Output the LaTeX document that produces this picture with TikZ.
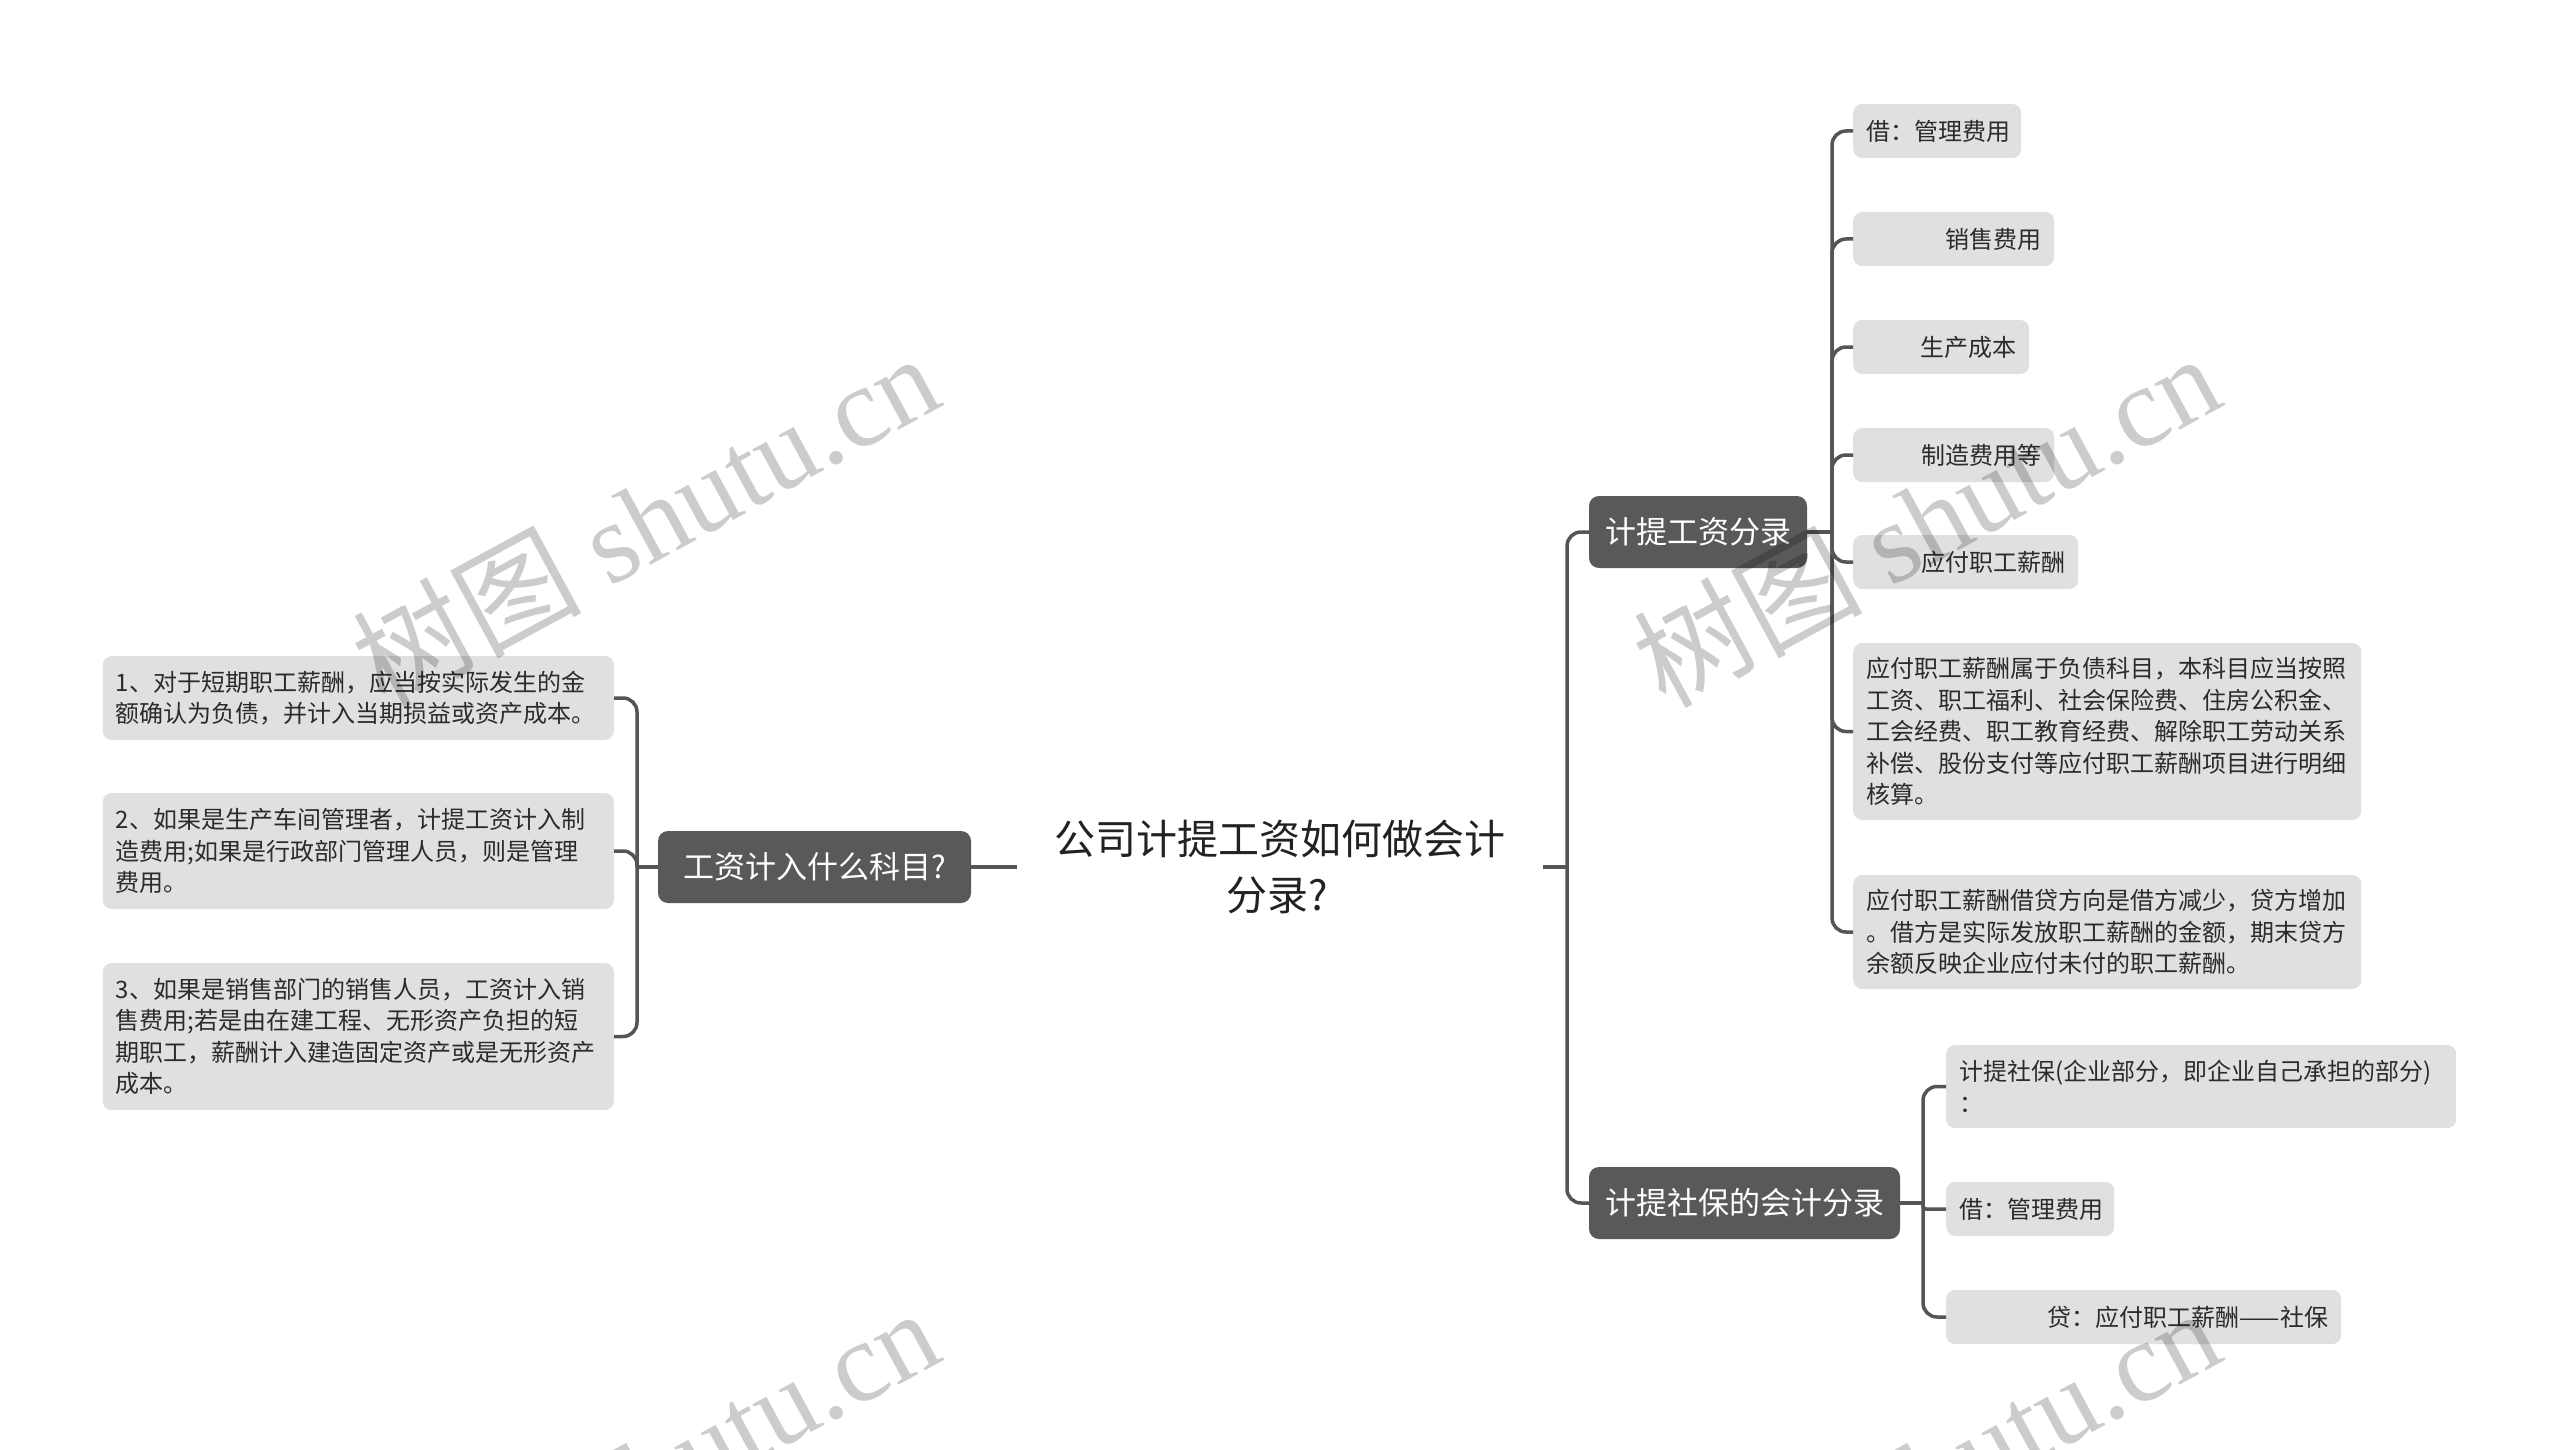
\documentclass[tikz,border=0pt]{standalone}
\usepackage{fontspec}
\setmainfont{Noto Sans CJK SC}
\newfontfamily\wmlatin{Liberation Serif}
\newfontfamily\wmcjk{Noto Sans CJK SC}
\definecolor{darkfill}{HTML}{595959}
\definecolor{leaffill}{HTML}{E0E0E0}
\definecolor{leaftext}{HTML}{2B2B2B}
\definecolor{linec}{HTML}{555555}
\definecolor{roottext}{HTML}{222222}
\tikzset{
  conn/.style={draw=linec, line width=3.5pt, rounded corners=14pt},
  mainnode/.style={fill=darkfill, rounded corners=10pt, text=white,
    font=\fontsize{31}{38}\selectfont, minimum height=72pt, inner sep=0pt},
  leaf/.style={fill=leaffill, rounded corners=9pt, text=leaftext,
    font=\fontsize{24}{31.5}\selectfont, inner xsep=13pt, inner ysep=0pt},
  roottitle/.style={text=roottext, font=\fontsize{41}{56}\selectfont,
    text width=460pt, align=center, inner xsep=33pt, inner ysep=0pt},
  wmark/.style={text=black, text opacity=0.2, rotate=28.5,
    font=\fontsize{114}{120}\selectfont, inner sep=0pt}
}
\begin{document}
\begin{tikzpicture}[x=1pt,y=-1pt]
\useasboundingbox (0,0) rectangle (2560,1450);
\fill[white] (0,0) rectangle (2560,1450);

% root
\node[roottitle] (root) at (1280,867) {公司计提工资如何做会计\\分录?\hspace*{6pt}};

% main branches
\node[mainnode, minimum width=313pt] (n1) at (814.5,867) {工资计入什么科目?};
\node[mainnode, minimum width=218pt] (n2) at (1698,532) {计提工资分录};
\node[mainnode, minimum width=311pt] (n3) at (1744.5,1203) {计提社保的会计分录};

% left leaves
\node[leaf, anchor=east, text width=485pt, align=left, minimum height=84pt] (l1) at (614,698)
  {1、对于短期职工薪酬，应当按实际发生的金\\额确认为负债，并计入当期损益或资产成本。};
\node[leaf, anchor=east, text width=485pt, align=left, minimum height=116pt] (l2) at (614,851)
  {2、如果是生产车间管理者，计提工资计入制\\造费用;如果是行政部门管理人员，则是管理\\费用。};
\node[leaf, anchor=east, text width=485pt, align=left, minimum height=147pt] (l3) at (614,1036.5)
  {3、如果是销售部门的销售人员，工资计入销\\售费用;若是由在建工程、无形资产负担的短\\期职工，薪酬计入建造固定资产或是无形资产\\成本。};

% right leaves of n2
\node[leaf, anchor=west, text width=142pt, align=left, minimum height=54pt] (r1) at (1853,131) {借：管理费用};
\node[leaf, anchor=west, text width=175pt, align=right, minimum height=54pt] (r2) at (1853,239) {销售费用};
\node[leaf, anchor=west, text width=150pt, align=right, minimum height=54pt] (r3) at (1853,347) {生产成本};
\node[leaf, anchor=west, text width=175pt, align=right, minimum height=54pt] (r4) at (1853,455) {制造费用等};
\node[leaf, anchor=west, text width=199pt, align=right, minimum height=54pt] (r5) at (1853,562) {应付职工薪酬};
\node[leaf, anchor=west, text width=482pt, align=left, minimum height=177pt] (r6) at (1853,731.5)
  {应付职工薪酬属于负债科目，本科目应当按照\\工资、职工福利、社会保险费、住房公积金、\\工会经费、职工教育经费、解除职工劳动关系\\补偿、股份支付等应付职工薪酬项目进行明细\\核算。};
\node[leaf, anchor=west, text width=482pt, align=left, minimum height=114pt] (r7) at (1853,932)
  {应付职工薪酬借贷方向是借方减少，贷方增加\\。借方是实际发放职工薪酬的金额，期末贷方\\余额反映企业应付未付的职工薪酬。};

% right leaves of n3
\node[leaf, anchor=west, text width=484pt, align=left, minimum height=83pt] (s1) at (1946,1086.5)
  {计提社保(企业部分，即企业自己承担的部分)\\：};
\node[leaf, anchor=west, text width=142pt, align=left, minimum height=54pt] (s2) at (1946,1209) {借：管理费用};
\node[leaf, anchor=west, text width=369pt, align=right, minimum height=54pt] (s3) at (1946,1317) {贷：应付职工薪酬——社保};

% junctions
\coordinate (j0) at (1567,867);
\coordinate (j1) at (1832,532);
\coordinate (j2) at (1923,1203);
\coordinate (j3) at (637,867);

% connectors
\draw[conn] (root.west) -- (n1.east);
\draw[conn] (root.east) -- (j0);
\draw[conn] (j0) |- (n2.west);
\draw[conn] (j0) |- (n3.west);

\draw[conn] (n1.west) -- (j3);
\draw[conn] (j3) |- (l1.east);
\draw[conn] (j3) |- (l2.east);
\draw[conn] (j3) |- (l3.east);

\draw[conn] (n2.east) -- (j1);
\foreach \c in {r1,r2,r3,r4,r5,r6,r7} {\draw[conn] (j1) |- (\c.west);}

\draw[conn] (n3.east) -- (j2);
\draw[conn] (j2) |- (s1.west);
\draw[conn, rounded corners=3pt] (j2) |- (s2.west);
\draw[conn] (j2) |- (s3.west);

% watermarks
\begin{scope}
\clip (0,0) rectangle (2560,1450);
\node[wmark] (wm1) at (645,519) {\wmcjk 树图\hspace{28pt}\wmlatin shutu.cn};
\node[wmark] (wm2) at (1926,519) {\wmcjk 树图\hspace{28pt}\wmlatin shutu.cn};
\node[wmark] (wm3) at (645,1474) {\wmcjk 树图\hspace{28pt}\wmlatin shutu.cn};
\node[wmark] (wm4) at (1926,1474) {\wmcjk 树图\hspace{28pt}\wmlatin shutu.cn};
\end{scope}
\end{tikzpicture}
\end{document}
